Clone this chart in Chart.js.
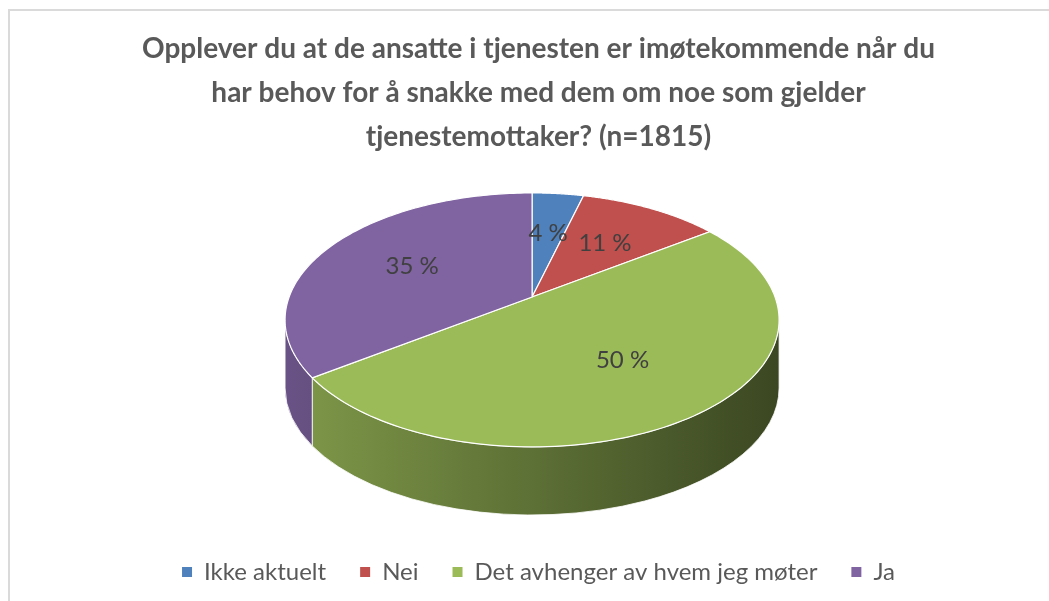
<!DOCTYPE html>
<html>
<head>
<meta charset="utf-8">
<script src="https://cdn.jsdelivr.net/npm/chart.js@4/dist/chart.umd.min.js"></script>
<style>
  body { margin: 0; background: #fff; }
  #wrap { position: relative; width: 1049px; height: 601px; overflow: hidden; }
  #graf { position: absolute; left: 0; top: 0; }
  #ramme { position: absolute; left: 8px; top: 9px; width: 1100px; height: 700px; border-top: 2px solid #dadada; border-left: 2px solid #dadada; pointer-events: none; }
</style>
</head>
<body>
<div id="wrap">
  <canvas id="graf" width="1049" height="601"></canvas>
  <div id="ramme"></div>
</div>
<script>
const kategorier = ['Ikke aktuelt', 'Nei', 'Det avhenger av hvem jeg møter', 'Ja'];
const andeler = [4, 11, 50, 35];
const farger = ['#4f81bd', '#c0504d', '#9bbb59', '#8064a2'];
const tittel = [
    'Opplever du at de ansatte i tjenesten er imøtekommende når du',
    'har behov for å snakke med dem om noe som gjelder',
    'tjenestemottaker? (n=1815)'
];

// form på 3D-kaken, i forhold til radiusen Chart.js regner ut
const X_SKALA = 1.346;
const Y_SKALA = 0.692;
const DYBDE = 0.371;
const LOFT = 0.123;
const FORSKYV = 0.035;
const PERSP = -0.18;
const ETIKETT_AVSTAND = 0.58;

function proj(x, y) {
    const d = 1 + PERSP * y;
    return [x * Math.sqrt(1 - PERSP * PERSP) / d, (y + PERSP) / d];
}

function vinkel(t) {
    const p = proj(Math.cos(t), Math.sin(t));
    return Math.atan2(p[1], p[0]);
}

function mork(hex, f) {
    const n = parseInt(hex.slice(1), 16);
    const r = Math.round(((n >> 16) & 255) * f);
    const g = Math.round(((n >> 8) & 255) * f);
    const b = Math.round((n & 255) * f);
    return `rgb(${r},${g},${b})`;
}

function geometri(chart) {
    const meta = chart.getDatasetMeta(0);
    const r = meta.data[0].outerRadius;
    return {
        meta: meta,
        rx: r * X_SKALA,
        ry: r * Y_SKALA,
        dybde: r * DYBDE,
        cx: meta.data[0].x - r * FORSKYV,
        cy: meta.data[0].y - r * LOFT
    };
}

const kake3d = {
    id: 'kake3d',
    beforeDatasetsDraw(chart) {
        const ctx = chart.ctx;
        const g = geometri(chart);
        const pkt = (x, y) => {
            const p = proj(x, y);
            return [g.cx + g.rx * p[0], g.cy + g.ry * p[1]];
        };

        // sidekanten (bare fremre halvdel synes)
        g.meta.data.forEach((arc) => {
            const farge = arc.options.backgroundColor;
            let a = vinkel(arc.startAngle);
            let e = vinkel(arc.endAngle);
            while (e <= a) e += 2 * Math.PI;
            [-2 * Math.PI, 0, 2 * Math.PI].forEach(off => {
                const s = Math.max(a, off);
                const t = Math.min(e, off + Math.PI);
                if (t <= s) return;
                const grad = ctx.createLinearGradient(g.cx - g.rx, 0, g.cx + g.rx, 0);
                grad.addColorStop(0, mork(farge, 0.82));
                grad.addColorStop(1, mork(farge, 0.38));
                ctx.beginPath();
                ctx.ellipse(g.cx, g.cy, g.rx, g.ry, 0, s, t);
                ctx.ellipse(g.cx, g.cy + g.dybde, g.rx, g.ry, 0, t, s, true);
                ctx.closePath();
                ctx.fillStyle = grad;
                ctx.fill();
                ctx.strokeStyle = 'rgba(255,255,255,0.8)';
                ctx.lineWidth = 1;
                ctx.stroke();
            });
        });

        // toppflaten
        g.meta.data.forEach((arc) => {
            const n = 120;
            ctx.beginPath();
            const c = pkt(0, 0);
            ctx.moveTo(c[0], c[1]);
            for (let k = 0; k <= n; k++) {
                const t = arc.startAngle + (arc.endAngle - arc.startAngle) * k / n;
                const p = pkt(Math.cos(t), Math.sin(t));
                ctx.lineTo(p[0], p[1]);
            }
            ctx.closePath();
            ctx.fillStyle = arc.options.backgroundColor;
            ctx.fill();
            ctx.strokeStyle = '#ffffff';
            ctx.lineWidth = 1.2;
            ctx.stroke();
        });
        return false;
    },
    afterDraw(chart) {
        const ctx = chart.ctx;
        const g = geometri(chart);
        ctx.save();
        ctx.font = '24px Lato';
        ctx.fillStyle = '#404040';
        ctx.textAlign = 'center';
        ctx.textBaseline = 'middle';
        g.meta.data.forEach((arc, i) => {
            const m = (arc.startAngle + arc.endAngle) / 2;
            const p = proj(ETIKETT_AVSTAND * Math.cos(m), ETIKETT_AVSTAND * Math.sin(m));
            ctx.fillText(`${andeler[i]} %`, g.cx + g.rx * p[0], g.cy + g.ry * p[1]);
        });
        ctx.restore();
    }
};

const ctx_graf = document.getElementById('graf').getContext('2d');
const graf = new Chart(ctx_graf, {
    type: 'pie',
    data: {
        labels: kategorier,
        datasets: [{
            data: andeler,
            backgroundColor: farger,
            borderWidth: 0
        }]
    },
    options: {
        responsive: false,
        animation: false,
        devicePixelRatio: 1,
        layout: { padding: { left: 28, bottom: 7 } },
        plugins: {
            title: {
                display: true,
                text: tittel,
                color: '#595959',
                font: { family: 'Lato', size: 28, weight: 'bold', lineHeight: 1.571 },
                padding: { top: 27, bottom: 0 }
            },
            legend: {
                position: 'bottom',
                labels: {
                    boxWidth: 10,
                    boxHeight: 10,
                    padding: 34,
                    color: '#595959',
                    font: { family: 'Lato', size: 24 }
                }
            },
            tooltip: { enabled: false }
        }
    },
    plugins: [kake3d]
});
</script>
</body>
</html>
